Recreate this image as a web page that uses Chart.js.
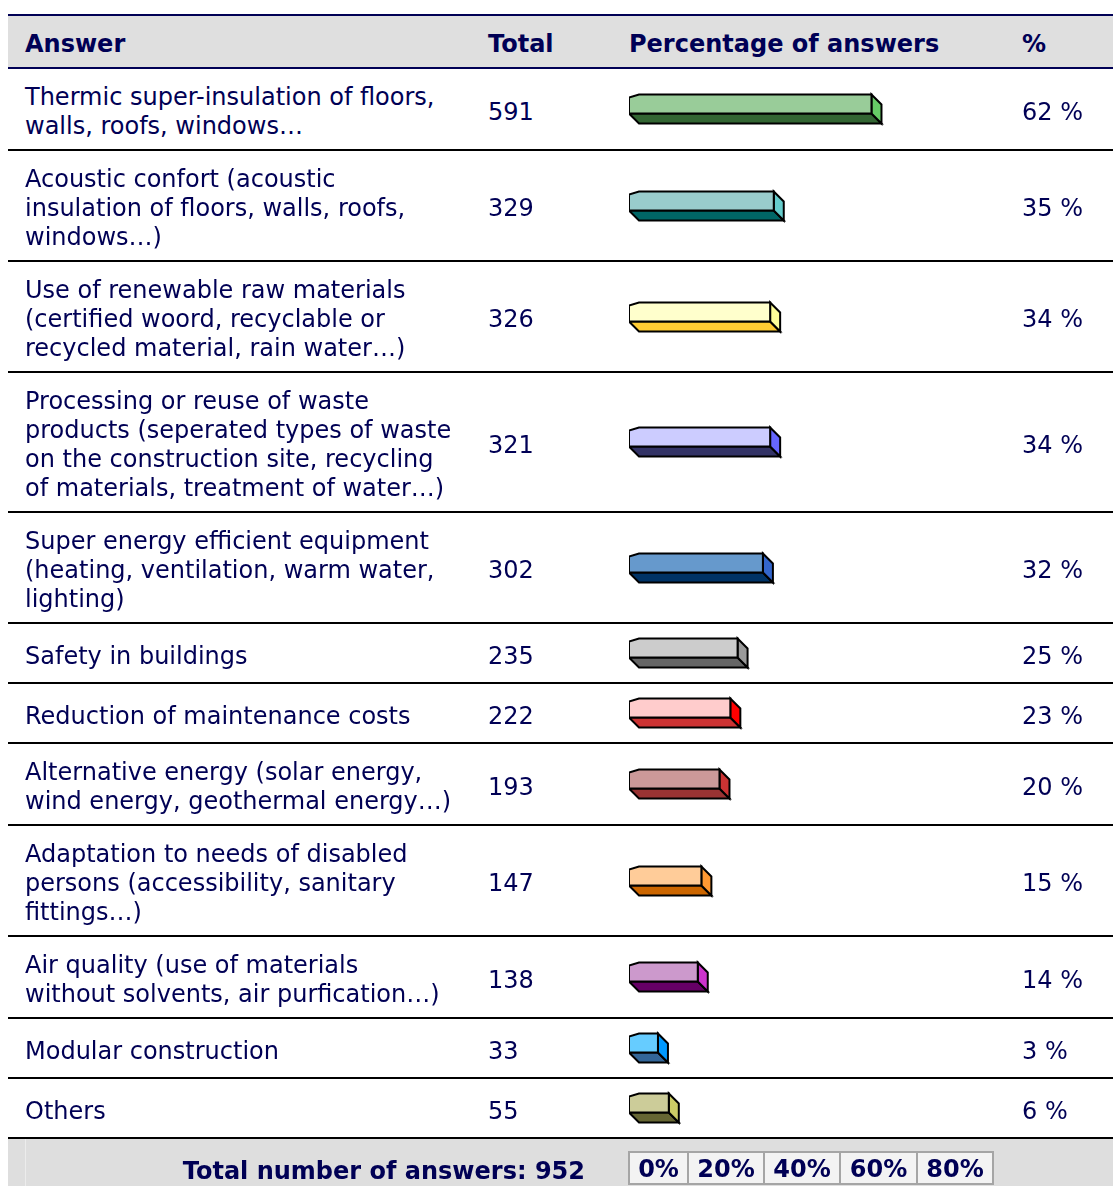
<!DOCTYPE html>
<html>
<head>
<meta charset="utf-8">
<title>Answers</title>
<script src="https://cdn.jsdelivr.net/npm/chart.js@4.4.0/dist/chart.umd.min.js"></script>
<style>
  body { margin: 0; background: #fff; overflow: hidden; font-family: "DejaVu Sans", Verdana, sans-serif; color: #000055; }
  #wrap { position: absolute; left: 8px; top: 14px; width: 1125px; }
  table { border-collapse: collapse; table-layout: fixed; width: 1125px; font-size: 24px; }
  th { background: #dfdfdf; text-align: left; font-weight: bold; height: 47px; padding: 4px 0 0 17px;
       border-top: 2px solid #000055; border-bottom: 2px solid #000055; }
  td { padding: 14px 0 8px 17px; line-height: 29px; vertical-align: middle; border-bottom: 2px solid #000; white-space: pre; }
  td.bar { line-height: 0; padding: 11px 0 11px 17px; }
  canvas { display: block; }
  tr.foot td { background: #dedede; border-bottom: none; padding: 12px 0 30px 0; font-weight: bold; }
  td.total { text-align: right; padding: 15px 27px 27px 0 !important;
             background-image: linear-gradient(to right, #dedede 17px, #ececec 17px, #ececec 18px, #dedede 18px) !important; }
  .scale { display: flex; margin-left: 18px; }
  .scale div { border: 2px solid #a5a5a5; background: #f3f3f3; line-height: 28px; padding-top: 2px; text-align: center; margin-left: -2px; }
</style>
</head>
<body>
<div id="wrap">
  <table id="tbl">
    <colgroup><col style="width:463px"><col style="width:141px"><col style="width:393px"><col style="width:128px"></colgroup>
    <thead><tr><th>Answer</th><th>Total</th><th>Percentage of answers</th><th>%</th></tr></thead>
    <tbody id="rows"></tbody>
  </table>
</div>
<script>
// answers as in the survey table (line breaks as printed)
var answers = [
  "Thermic super-insulation of floors,\nwalls, roofs, windows\u2026",
  "Acoustic confort (acoustic\ninsulation of floors, walls, roofs,\nwindows\u2026)",
  "Use of renewable raw materials\n(certified woord, recyclable or\nrecycled material, rain water\u2026)",
  "Processing or reuse of waste\nproducts (seperated types of waste\non the construction site, recycling\nof materials, treatment of water\u2026)",
  "Super energy efficient equipment\n(heating, ventilation, warm water,\nlighting)",
  "Safety in buildings",
  "Reduction of maintenance costs",
  "Alternative energy (solar energy,\nwind energy, geothermal energy\u2026)",
  "Adaptation to needs of disabled\npersons (accessibility, sanitary\nfittings\u2026)",
  "Air quality (use of materials\nwithout solvents, air purfication\u2026)",
  "Modular construction",
  "Others"
];
var totals = [591, 329, 326, 321, 302, 235, 222, 193, 147, 138, 33, 55];
var percents = [62, 35, 34, 34, 32, 25, 23, 20, 15, 14, 3, 6];
var totalAnswers = 952;
var scaleTicks = ["0%", "20%", "40%", "60%", "80%"];

// colours of the 3d bars: front / bottom / side
var frontColors  = ["#99cc99", "#99cccc", "#ffffcc", "#ccccff", "#6699cc", "#cccccc", "#ffcccc", "#cc9999", "#ffcc99", "#cc99cc", "#66ccff", "#cccc99"];
var bottomColors = ["#336633", "#006666", "#ffcc33", "#333366", "#003366", "#666666", "#cc3333", "#993333", "#cc6600", "#660066", "#336699", "#666633"];
var sideColors   = ["#66cc66", "#66cccc", "#ffff99", "#6666ff", "#3366cc", "#999999", "#ff0000", "#cc3333", "#ff9933", "#cc33cc", "#0099ff", "#cccc66"];

var depth = 10;

// draws each bar as a small 3d box instead of a flat rectangle
var box3d = {
  id: 'box3d',
  beforeDatasetDraw: function (chart, args) {
    var ds = chart.data.datasets[args.index];
    var ctx = chart.ctx;
    args.meta.data.forEach(function (bar) {
      var x0 = bar.base, x1 = bar.x;
      var y0 = bar.y - bar.height / 2;
      var h = bar.height - depth;
      ctx.save();
      ctx.lineWidth = 2;
      ctx.strokeStyle = "#000";
      ctx.lineJoin = "miter";
      // bottom face
      ctx.beginPath();
      ctx.moveTo(x0, y0 + h); ctx.lineTo(x1, y0 + h);
      ctx.lineTo(x1 + depth, y0 + h + depth); ctx.lineTo(x0 + depth, y0 + h + depth);
      ctx.closePath();
      ctx.fillStyle = ds.bottomColor; ctx.fill(); ctx.stroke();
      // right side
      ctx.beginPath();
      ctx.moveTo(x1, y0); ctx.lineTo(x1 + depth, y0 + depth);
      ctx.lineTo(x1 + depth, y0 + h + depth); ctx.lineTo(x1, y0 + h);
      ctx.closePath();
      ctx.fillStyle = ds.sideColor; ctx.fill(); ctx.stroke();
      // front face
      ctx.beginPath();
      ctx.moveTo(x0, y0 + 3); ctx.lineTo(x0 + depth, y0);
      ctx.lineTo(x1, y0); ctx.lineTo(x1, y0 + h); ctx.lineTo(x0, y0 + h);
      ctx.closePath();
      ctx.fillStyle = ds.backgroundColor; ctx.fill(); ctx.stroke();
      ctx.restore();
    });
    return false;
  }
};

var tbody = document.getElementById('rows');
answers.forEach(function (answer, i) {
  var tr = document.createElement('tr');
  var td1 = document.createElement('td'); td1.textContent = answer;
  var td2 = document.createElement('td'); td2.textContent = totals[i];
  var td3 = document.createElement('td'); td3.className = 'bar';
  var td4 = document.createElement('td'); td4.textContent = percents[i] + ' %';
  var cv = document.createElement('canvas');
  cv.width = 380; cv.height = 36;
  td3.appendChild(cv);
  tr.appendChild(td1); tr.appendChild(td2); tr.appendChild(td3); tr.appendChild(td4);
  tbody.appendChild(tr);

  new Chart(cv.getContext('2d'), {
    type: 'bar',
    data: {
      labels: [answer],
      datasets: [{
        data: [percents[i]],
        base: -5,
        backgroundColor: frontColors[i],
        bottomColor: bottomColors[i],
        sideColor: sideColors[i],
        barThickness: 29
      }]
    },
    options: {
      indexAxis: 'y',
      responsive: false,
      maintainAspectRatio: false,
      animation: false,
      layout: { padding: 0 },
      plugins: { legend: { display: false }, tooltip: { enabled: false } },
      scales: {
        x: { display: false, min: -5, max: 100 },
        y: { display: false }
      }
    },
    plugins: [box3d]
  });
});

// footer: total + percentage scale
var foot = document.createElement('tr');
foot.className = 'foot';
var f1 = document.createElement('td');
f1.colSpan = 2; f1.className = 'total';
f1.textContent = 'Total number of answers: ' + totalAnswers;
var f2 = document.createElement('td');
f2.colSpan = 2;
var sc = document.createElement('div'); sc.className = 'scale';
var boxWidths = [61, 78, 78, 79, 78];
scaleTicks.forEach(function (t, k) {
  var b = document.createElement('div');
  b.style.width = (boxWidths[k] - 4) + 'px';
  b.textContent = t;
  sc.appendChild(b);
});
f2.appendChild(sc);
foot.appendChild(f1); foot.appendChild(f2);
tbody.appendChild(foot);
</script>
</body>
</html>
